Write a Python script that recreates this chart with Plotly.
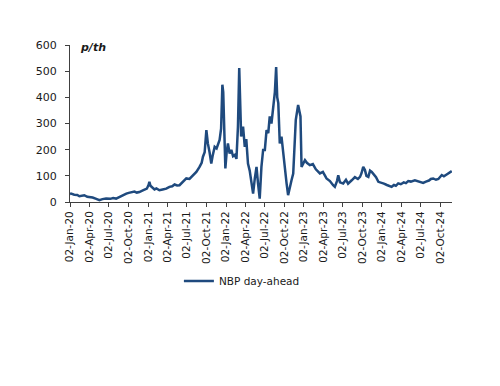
import plotly.graph_objects as go

series_name = "NBP day-ahead"
unit_label = "p/th"

dates = [
    "2020-01-02", "2020-01-07", "2020-01-22", "2020-02-05", "2020-02-15", "2020-02-28", "2020-03-09", "2020-03-23",
    "2020-04-05", "2020-04-17", "2020-05-04", "2020-05-19", "2020-06-02", "2020-06-19", "2020-07-09", "2020-07-22",
    "2020-08-05", "2020-08-21", "2020-09-05", "2020-09-22", "2020-10-03", "2020-10-14", "2020-10-30", "2020-11-10",
    "2020-11-22", "2020-12-11", "2020-12-27", "2021-01-04", "2021-01-08", "2021-01-13", "2021-01-23", "2021-02-01",
    "2021-02-10", "2021-02-24", "2021-03-11", "2021-03-28", "2021-04-12", "2021-04-25", "2021-05-06", "2021-05-18",
    "2021-05-29", "2021-06-14", "2021-06-30", "2021-07-15", "2021-07-31", "2021-08-16", "2021-08-31", "2021-09-10",
    "2021-09-16", "2021-09-24", "2021-10-02", "2021-10-06", "2021-10-09", "2021-10-17", "2021-10-25", "2021-10-31",
    "2021-11-10", "2021-11-19", "2021-12-03", "2021-12-10", "2021-12-16", "2021-12-20", "2021-12-24", "2021-12-30",
    "2022-01-05", "2022-01-11", "2022-01-19", "2022-01-27", "2022-02-04", "2022-02-12", "2022-02-20", "2022-02-27",
    "2022-03-05", "2022-03-10", "2022-03-14", "2022-03-23", "2022-03-31", "2022-04-07", "2022-04-15", "2022-04-23",
    "2022-05-01", "2022-05-09", "2022-05-17", "2022-05-25", "2022-06-01", "2022-06-09", "2022-06-17", "2022-06-25",
    "2022-07-03", "2022-07-11", "2022-07-19", "2022-07-26", "2022-08-03", "2022-08-11", "2022-08-19", "2022-08-25",
    "2022-08-30", "2022-09-04", "2022-09-08", "2022-09-11", "2022-09-19", "2022-09-27", "2022-10-05", "2022-10-13",
    "2022-10-20", "2022-10-28", "2022-11-05", "2022-11-13", "2022-11-18", "2022-11-25", "2022-12-06", "2022-12-12",
    "2022-12-17", "2022-12-22", "2022-12-30", "2023-01-07", "2023-01-16", "2023-01-30", "2023-02-13", "2023-02-27",
    "2023-03-18", "2023-04-01", "2023-04-18", "2023-05-04", "2023-05-19", "2023-05-27", "2023-06-06", "2023-06-12",
    "2023-06-20", "2023-07-05", "2023-07-18", "2023-07-28", "2023-08-14", "2023-08-29", "2023-09-12", "2023-09-22",
    "2023-09-29", "2023-10-07", "2023-10-15", "2023-10-22", "2023-10-31", "2023-11-08", "2023-11-16", "2023-11-27",
    "2023-12-06", "2023-12-17", "2023-12-29", "2024-01-12", "2024-01-26", "2024-02-04", "2024-02-17", "2024-02-28",
    "2024-03-08", "2024-03-19", "2024-03-31", "2024-04-14", "2024-04-24", "2024-05-05", "2024-05-17", "2024-06-05",
    "2024-06-19", "2024-06-29", "2024-07-14", "2024-07-27", "2024-08-10", "2024-08-19", "2024-08-30", "2024-09-12",
    "2024-09-23", "2024-10-09", "2024-10-19", "2024-11-01", "2024-11-12", "2024-11-25",
]

prices = [
    30, 32, 28, 27, 22, 25, 26, 20,
    19, 17, 12, 7, 11, 13, 12, 15,
    13, 20, 26, 32, 35, 38, 40, 36,
    38, 45, 51, 65, 77, 62, 55, 48,
    52, 45, 48, 51, 58, 60, 67, 63,
    64, 77, 90, 88, 102, 115, 134, 150,
    173, 190, 275, 240, 224, 190, 147, 175,
    211, 205, 237, 280, 448, 420, 260, 128,
    190, 224, 185, 199, 175, 180, 165, 288,
    512, 380, 250, 288, 211, 240, 147, 120,
    83, 32, 90, 134, 71, 13, 134, 199,
    199, 275, 263, 327, 300, 365, 420, 516,
    400, 378, 280, 224, 250, 180, 122, 70,
    26, 60, 83, 109, 200, 314, 371, 350,
    327, 134, 150, 160, 150, 141, 145, 125,
    109, 115, 90, 80, 64, 58, 80, 102,
    75, 71, 85, 70, 83, 95, 88, 96,
    110, 134, 122, 100, 96, 120, 115, 105,
    95, 77, 75, 70, 65, 62, 58, 65,
    62, 71, 68, 75, 72, 80, 78, 83,
    80, 76, 73, 78, 82, 88, 90, 85,
    88, 103, 98, 105, 110, 118,
]

tick_dates = [
    "2020-01-02", "2020-04-02", "2020-07-02", "2020-10-02",
    "2021-01-02", "2021-04-02", "2021-07-02", "2021-10-02",
    "2022-01-02", "2022-04-02", "2022-07-02", "2022-10-02",
    "2023-01-02", "2023-04-02", "2023-07-02", "2023-10-02",
    "2024-01-02", "2024-04-02", "2024-07-02", "2024-10-02",
]
y_ticks = [0, 100, 200, 300, 400, 500, 600]

LINE = "#1F4A7E"
FONT = "DejaVu Sans"
TXT = "#1a1a1a"

fig = go.Figure()
fig.add_trace(go.Scatter(
    x=dates, y=prices, mode="lines", name=series_name,
    line=dict(color=LINE, width=2.5),
))

fig.update_layout(
    width=500, height=386,
    margin=dict(l=62, r=56, t=37, b=192),
    paper_bgcolor="white", plot_bgcolor="white",
    font=dict(family=FONT, size=10.5, color=TXT),
    showlegend=True,
    legend=dict(orientation="h", x=0.45, xanchor="center", y=-0.503, yanchor="middle",
                font=dict(family=FONT, size=10.5, color=TXT),
                bgcolor="rgba(0,0,0,0)"),
    xaxis=dict(
        type="date", range=["2020-01-02", "2024-11-26"], automargin=False,
        tickmode="array", tickvals=tick_dates, tickformat="%d-%b-%y",
        tickangle=-90, ticks="outside", ticklen=4, tickcolor="#404040",
        showline=True, linecolor="#404040", linewidth=1,
        showgrid=False, zeroline=False,
        tickfont=dict(family=FONT, size=10.5, color=TXT),
    ),
    yaxis=dict(
        range=[0, 600], tickmode="array", tickvals=y_ticks, automargin=False,
        ticks="outside", ticklen=4, tickcolor="#404040", ticklabelstandoff=6,
        showline=True, linecolor="#404040", linewidth=1,
        showgrid=False, zeroline=False,
        tickfont=dict(family=FONT, size=11, color=TXT),
    ),
    annotations=[dict(
        text="<b><i>" + unit_label + "</i></b>", xref="paper", yref="paper",
        x=0.02, y=0.987, xanchor="left", yanchor="middle", showarrow=False,
        font=dict(family=FONT, size=11, color=TXT),
    )],
)

fig.write_html("out.html")
